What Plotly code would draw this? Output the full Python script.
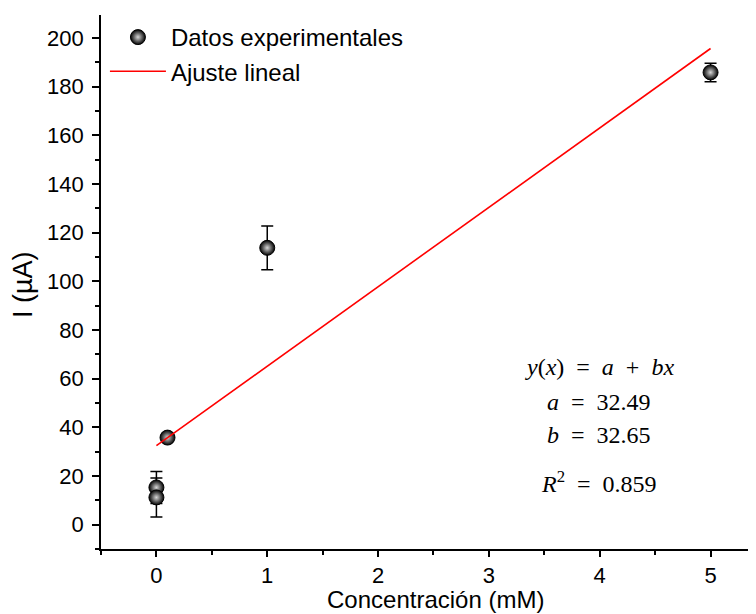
import plotly.graph_objects as go

conc = [0.0, 0.0, 0.1, 1.0, 5.0]
corriente = [15.3, 11.2, 35.8, 113.8, 185.9]
error = [6.6, 8.0, 1.5, 9.0, 3.8]

fit_a = 32.49
fit_b = 32.65
fit_x = [0.0, 5.0]
fit_y = [fit_a + fit_b * v for v in fit_x]

x_ticks = [0, 1, 2, 3, 4, 5]
y_ticks = [0, 20, 40, 60, 80, 100, 120, 140, 160, 180, 200]

SANS = "Liberation Sans, Arial, sans-serif"
SERIF = "Liberation Serif, DejaVu Serif, serif"

fig = go.Figure()
fig.add_trace(go.Scatter(
    x=conc, y=corriente, mode="markers", name="Datos experimentales",
    error_y=dict(type="data", array=error, color="black", thickness=1.5, width=6),
    marker=dict(size=15, color="black", gradient=dict(type="radial", color="#d8d8d8"),
                line=dict(width=1, color="black")),
))
fig.add_trace(go.Scatter(
    x=fit_x, y=fit_y, mode="lines", name="Ajuste lineal",
    line=dict(color="#ff0000", width=1.6),
))

ann_font = dict(family=SERIF, size=24, color="black")
texts = [
    ("<i>y</i>(<i>x</i>) &nbsp;=&nbsp; <i>a</i> &nbsp;+&nbsp; <i>bx</i>", 367),
    ("<i>a</i> &nbsp;=&nbsp; 32.49", 402),
    ("<i>b</i> &nbsp;=&nbsp; 32.65", 435),
    ("<i>R</i><sup>2</sup> &nbsp;=&nbsp; 0.859", 482),
]
for t, py in texts:
    fig.add_annotation(text=t, xref="paper", yref="paper",
                       x=(599 - 101) / 655, y=(549 - py) / 534,
                       showarrow=False, font=ann_font, xanchor="center", yanchor="middle")

fig.add_annotation(text="Concentración (mM)", xref="paper", yref="paper",
                   x=(435 - 101) / 655, y=(549 - 599) / 534, showarrow=False,
                   xanchor="center", yanchor="middle",
                   font=dict(family=SANS, size=24, color="black"))
fig.add_annotation(text="I (µA)", xref="paper", yref="paper", textangle=-90,
                   x=(23 - 101) / 655, y=(549 - 285) / 534, showarrow=False,
                   xanchor="center", yanchor="middle",
                   font=dict(family=SANS, size=27, color="black"))

axis_common = dict(
    showline=True, linecolor="black", linewidth=1.6, mirror=False,
    ticks="outside", tickwidth=1.5, tickcolor="black",
    showgrid=False, zeroline=False,
    tickfont=dict(family=SANS, size=22, color="black"),
)

fig.update_layout(
    width=748, height=606,
    margin=dict(l=93, r=0, t=7, b=65),
    plot_bgcolor="white", paper_bgcolor="white",
    showlegend=True,
    legend=dict(x=0.006, y=1.0, xanchor="left", yanchor="top",
                bgcolor="rgba(0,0,0,0)",
                font=dict(family=SANS, size=24, color="black"),
                itemwidth=56, tracegroupgap=0),
    xaxis=dict(range=[-0.5, 5.41], tickvals=x_ticks, ticklen=6,
               minor=dict(dtick=0.5, tick0=0, ticks="outside", ticklen=4, tickwidth=1.5, tickcolor="black"),
               **axis_common),
    yaxis=dict(range=[-10, 209.5], tickvals=y_ticks, ticklen=7, ticklabelstandoff=4,
               minor=dict(dtick=10, tick0=0, ticks="outside", ticklen=4, tickwidth=1.5, tickcolor="black"),
               **axis_common),
)

fig.write_html("out.html")
